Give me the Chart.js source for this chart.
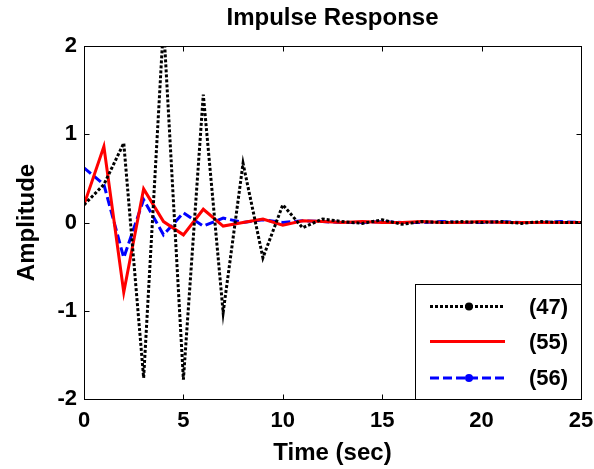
<!DOCTYPE html>
<html>
<head>
<meta charset="utf-8">
<script src="https://cdn.jsdelivr.net/npm/chart.js@4.4.1/dist/chart.umd.min.js"></script>
<style>
  html, body { margin: 0; padding: 0; background: #fff; }
  #c { display: block; }
</style>
</head>
<body>
<canvas id="c" width="594" height="469"></canvas>
<script>
const timeSec = [0,1,2,3,4,5,6,7,8,9,10,11,12,13,14,15,16,17,18,19,20,21,22,23,24,25];
const resp47 = [0.20, 0.43, 0.90, -1.76, 2.25, -1.78, 1.45, -1.02, 0.67, -0.40, 0.20, -0.06, 0.04, 0.01, -0.01, 0.03, -0.02, 0.01, 0.00, 0.01, 0.00, 0.01, -0.01, 0.01, 0.00, 0.00];
const resp55 = [0.20, 0.86, -0.79, 0.38, 0.01, -0.14, 0.15, -0.04, 0.00, 0.04, -0.03, 0.02, 0.01, 0.00, 0.01, 0.00, 0.00, 0.01, 0.00, 0.00, 0.01, 0.00, 0.00, 0.00, 0.00, 0.00];
const resp56 = [0.62, 0.43, -0.40, 0.26, -0.14, 0.11, -0.04, 0.05, 0.00, 0.03, 0.00, 0.02, 0.01, 0.00, 0.00, 0.01, 0.00, 0.00, 0.01, 0.00, 0.00, 0.01, 0.00, 0.00, 0.01, 0.00];
const seriesNames = ['(47)', '(55)', '(56)'];
const xTicks = [0, 5, 10, 15, 20, 25];
const yTicks = [-2, -1, 0, 1, 2];
const titleText = 'Impulse Response';
const xTitle = 'Time (sec)';
const yTitle = 'Amplitude';

const FONT = '"Liberation Sans", Arial, Helvetica, sans-serif';
const toPts = (ys) => ys.map((v, i) => ({ x: timeSec[i], y: v }));

const styles = [
  { color: '#000000', dash: [3, 2], marker: true },
  { color: '#ff0000', dash: [], marker: false },
  { color: '#0000ff', dash: [9, 4], marker: true }
];

// Box, inward ticks and MATLAB-like legend
const matlabAxes = {
  id: 'matlabAxes',
  afterDatasetsDraw(chart) {
    const { ctx, chartArea: a, scales } = chart;
    const xs = scales.x, ys = scales.y;
    ctx.save();
    ctx.strokeStyle = '#000';
    ctx.lineWidth = 1;
    ctx.setLineDash([]);
    const L = Math.round(a.left) + 0.5, R = Math.round(a.right) + 0.5;
    const T = Math.round(a.top) + 0.5, B = Math.round(a.bottom) + 0.5;
    ctx.strokeRect(L, T, R - L, B - T);
    const tl = 5;
    ctx.beginPath();
    xTicks.forEach(v => {
      const px = Math.round(xs.getPixelForValue(v)) + 0.5;
      ctx.moveTo(px, B); ctx.lineTo(px, B - tl);
      ctx.moveTo(px, T); ctx.lineTo(px, T + tl);
    });
    yTicks.forEach(v => {
      const py = Math.round(ys.getPixelForValue(v)) + 0.5;
      ctx.moveTo(L, py); ctx.lineTo(L + tl, py);
      ctx.moveTo(R, py); ctx.lineTo(R - tl, py);
    });
    ctx.stroke();

    // legend
    const lx = 415.5, ly = 284.5, lr = R, lb = B;
    ctx.fillStyle = '#fff';
    ctx.fillRect(lx, ly, lr - lx, lb - ly);
    ctx.strokeRect(lx, ly, lr - lx, lb - ly);
    const rowsY = [306.5, 341.5, 378];
    seriesNames.forEach((name, i) => {
      const st = styles[i];
      const y = rowsY[i];
      ctx.strokeStyle = st.color;
      ctx.lineWidth = 3;
      ctx.lineCap = 'butt';
      ctx.setLineDash(st.dash);
      ctx.beginPath();
      ctx.moveTo(430, y); ctx.lineTo(505, y);
      ctx.stroke();
      ctx.setLineDash([]);
      if (st.marker) {
        ctx.fillStyle = st.color;
        ctx.beginPath();
        ctx.arc(469, y, 4, 0, Math.PI * 2);
        ctx.fill();
      }
      ctx.fillStyle = '#000';
      ctx.font = 'bold 22px ' + FONT;
      ctx.textAlign = 'left';
      ctx.textBaseline = 'middle';
      ctx.fillText(name, 529, y + 1);
    });
    ctx.restore();
  }
};

new Chart(document.getElementById('c'), {
  type: 'line',
  data: {
    datasets: [resp47, resp55, resp56].map((ys, i) => ({
      label: seriesNames[i],
      data: toPts(ys),
      borderColor: styles[i].color,
      backgroundColor: styles[i].color,
      borderWidth: 3,
      borderDash: styles[i].dash,
      borderCapStyle: 'butt',
      pointRadius: 0,
      tension: 0,
      fill: false
    }))
  },
  options: {
    responsive: false,
    animation: false,
    devicePixelRatio: 1,
    layout: { padding: { left: 0, right: 13, top: 0, bottom: 0 } },
    plugins: {
      legend: { display: false },
      tooltip: { enabled: false },
      title: {
        display: true,
        fullSize: false,
        text: titleText,
        color: '#000',
        font: { family: FONT, size: 24, weight: 'bold' },
        padding: { top: 4, bottom: 13.2 }
      }
    },
    scales: {
      x: {
        type: 'linear',
        min: 0, max: 25,
        afterBuildTicks: (s) => { s.ticks = xTicks.map(v => ({ value: v })); },
        afterFit: (s) => { s.height = 70; s.paddingLeft = 0; s.paddingRight = 0; },
        grid: { display: false, drawTicks: false },
        border: { display: false },
        ticks: { color: '#000', padding: 9, font: { family: FONT, size: 22, weight: 'bold' }, maxRotation: 0 },
        title: { display: true, text: xTitle, color: '#000', padding: { top: 0, bottom: 1 }, font: { family: FONT, size: 24, weight: 'bold' } }
      },
      y: {
        min: -2, max: 2,
        afterBuildTicks: (s) => { s.ticks = yTicks.map(v => ({ value: v })); },
        afterFit: (s) => { s.width = 84; s.paddingTop = 0; s.paddingBottom = 0; },
        grid: { display: false, drawTicks: false },
        border: { display: false },
        ticks: { color: '#000', padding: 7, font: { family: FONT, size: 22, weight: 'bold' } },
        title: { display: true, text: yTitle, color: '#000', padding: { top: 12.5, bottom: 0 }, font: { family: FONT, size: 24, weight: 'bold' } }
      }
    }
  },
  plugins: [matlabAxes]
});
</script>
</body>
</html>
